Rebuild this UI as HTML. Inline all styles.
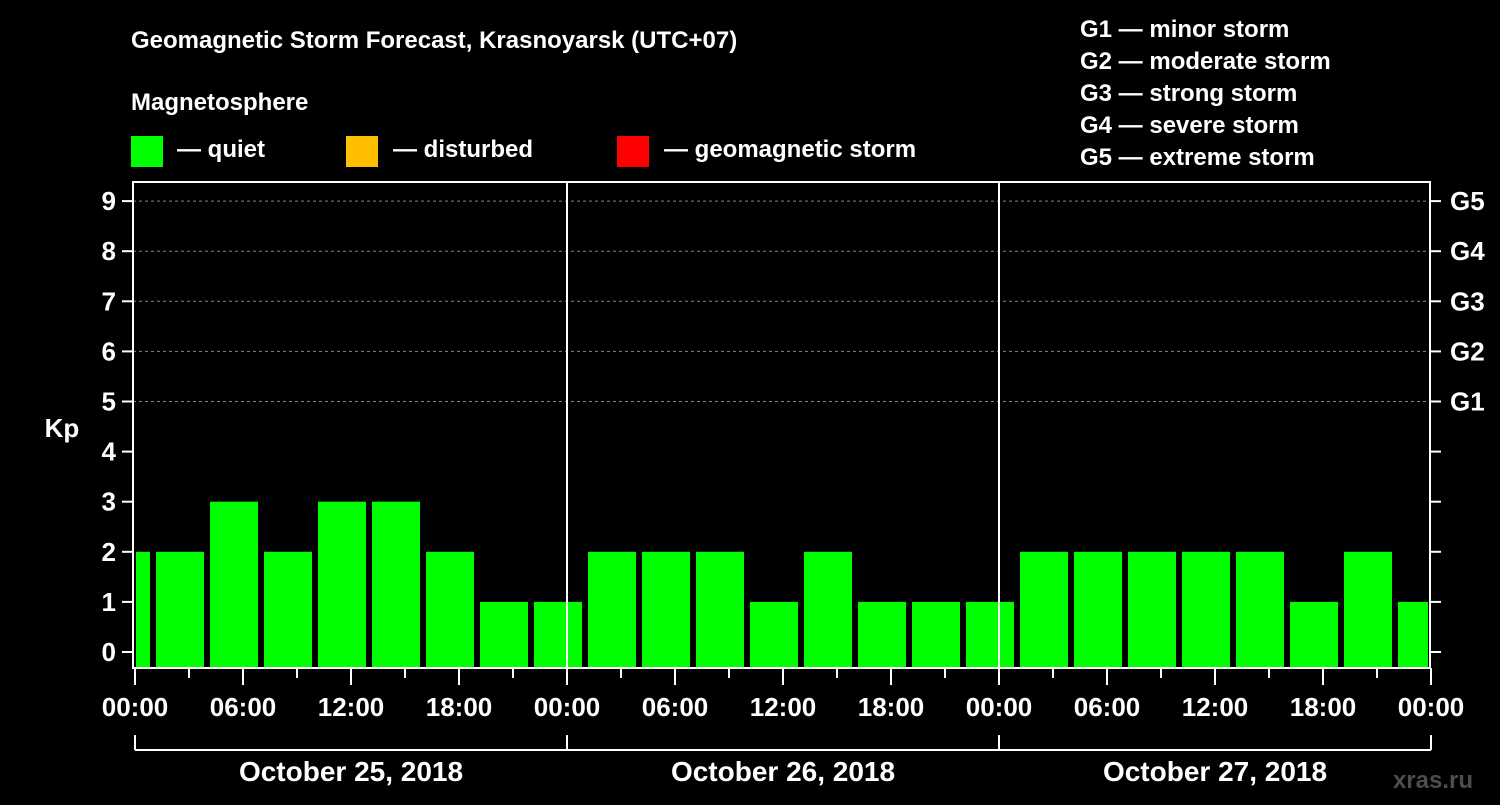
<!DOCTYPE html>
<html><head><meta charset="utf-8"><style>
html,body{margin:0;padding:0;background:#000;}
svg text{font-family:"Liberation Sans",sans-serif;font-weight:bold;fill:#fff;}
</style></head><body>
<svg id="c" width="1500" height="800" viewBox="0 0 1500 800">
<rect width="1500" height="800" fill="#000"/>
<text x="131" y="48" font-size="24">Geomagnetic Storm Forecast, Krasnoyarsk (UTC+07)</text>
<text x="131" y="110" font-size="24">Magnetosphere</text>
<g><rect x="131" y="136" width="32" height="31" fill="#00ff00"/><text x="177" y="157" font-size="24">— quiet</text></g>
<g><rect x="346" y="136" width="32" height="31" fill="#ffbf00"/><text x="393" y="157" font-size="24">— disturbed</text></g>
<g><rect x="617" y="136" width="32" height="31" fill="#ff0000"/><text x="664" y="157" font-size="24">— geomagnetic storm</text></g>
<g font-size="24">
<text x="1080" y="37">G1 — minor storm</text>
<text x="1080" y="69">G2 — moderate storm</text>
<text x="1080" y="101">G3 — strong storm</text>
<text x="1080" y="133">G4 — severe storm</text>
<text x="1080" y="165">G5 — extreme storm</text>
</g>
<text x="62" y="437" font-size="26" text-anchor="middle">Kp</text>
<text x="1473" y="788" font-size="24" text-anchor="end" fill="#555" style="fill:#4d4d4d">xras.ru</text>
<g id="grid"></g><g id="bars"></g><g id="axes"></g>
</svg>
<script>
const kpValues=[2,2,3,2,3,3,2,1,1,2,2,2,1,2,1,1,1,2,2,2,2,2,1,2,1];
const binStartHours=[-2,1,4,7,10,13,16,19,22,25,28,31,34,37,40,43,46,49,52,55,58,61,64,67,70];
const yTicks=[0,1,2,3,4,5,6,7,8,9];
const gLabels=["G1","G2","G3","G4","G5"];
const gLevels=[5,6,7,8,9];
const dayLabels=["October 25, 2018","October 26, 2018","October 27, 2018"];
const hourLabels=["00:00","06:00","12:00","18:00"];
const NS="http://www.w3.org/2000/svg";
const L=133,R=1430,T=182,B=668,X0=135,HPX=(1431-135)/72;
const x=h=>X0+h*HPX, y=k=>652-k*50.1;
function mk(tag,attrs,parent,txt){const e=document.createElementNS(NS,tag);for(const k in attrs)e.setAttribute(k,attrs[k]);if(txt!==undefined)e.textContent=txt;document.getElementById(parent).appendChild(e);return e;}
gLevels.forEach((g,i)=>{
 const l=mk('line',{x1:L,x2:R,y1:y(g),y2:y(g),stroke:'#888','stroke-dasharray':'3,3','stroke-width':1},'grid');
 
 
 const t=mk('text',{x:1450,y:y(g)+9,'font-size':26},'axes',gLabels[i]);
 
 
});
kpValues.forEach((v,i)=>{
 let a=Math.max(x(binStartHours[i])+3,L+3),b=Math.min(x(binStartHours[i]+3)-3,R-2);
 const r=mk('rect',{x:a,y:y(v),width:b-a,height:B-y(v),fill:v>=5?'#ff0000':(v>=4?'#ffbf00':'#00ff00')},'bars');
 
 
});
mk('rect',{x:L,y:T,width:R-L,height:B-T,fill:'none',stroke:'#fff','stroke-width':2},'axes');
[1,2].forEach(d=>{const l=mk('line',{x1:x(d*24),x2:x(d*24),y1:T,y2:B,stroke:'#fff','stroke-width':2},'axes');});
yTicks.forEach(k=>{
 mk('line',{x1:122,x2:L,y1:y(k),y2:y(k),stroke:'#fff','stroke-width':2},'axes');
 mk('line',{x1:R,x2:1441,y1:y(k),y2:y(k),stroke:'#fff','stroke-width':2},'axes');
 const t=mk('text',{x:116,y:y(k)+9,'font-size':26,'text-anchor':'end'},'axes',k);
 
 
});
for(let h=0;h<=72;h+=3){
 const long=h%6===0;
 mk('line',{x1:x(h),x2:x(h),y1:B,y2:long?685:678,stroke:'#fff','stroke-width':2},'axes');
 if(long){const t=mk('text',{x:x(h),y:716,'font-size':26,'text-anchor':'middle'},'axes',hourLabels[(h/6)%4]);
  
  }
}
mk('line',{x1:x(0),x2:x(72),y1:750,y2:750,stroke:'#fff','stroke-width':2},'axes');
for(let d=0;d<=3;d++)mk('line',{x1:x(d*24),x2:x(d*24),y1:735,y2:750,stroke:'#fff','stroke-width':2},'axes');
dayLabels.forEach((s,d)=>{const t=mk('text',{x:x(d*24+12),y:781,'font-size':28,'text-anchor':'middle'},'axes',s);
 
 });
</script>
</body></html>
